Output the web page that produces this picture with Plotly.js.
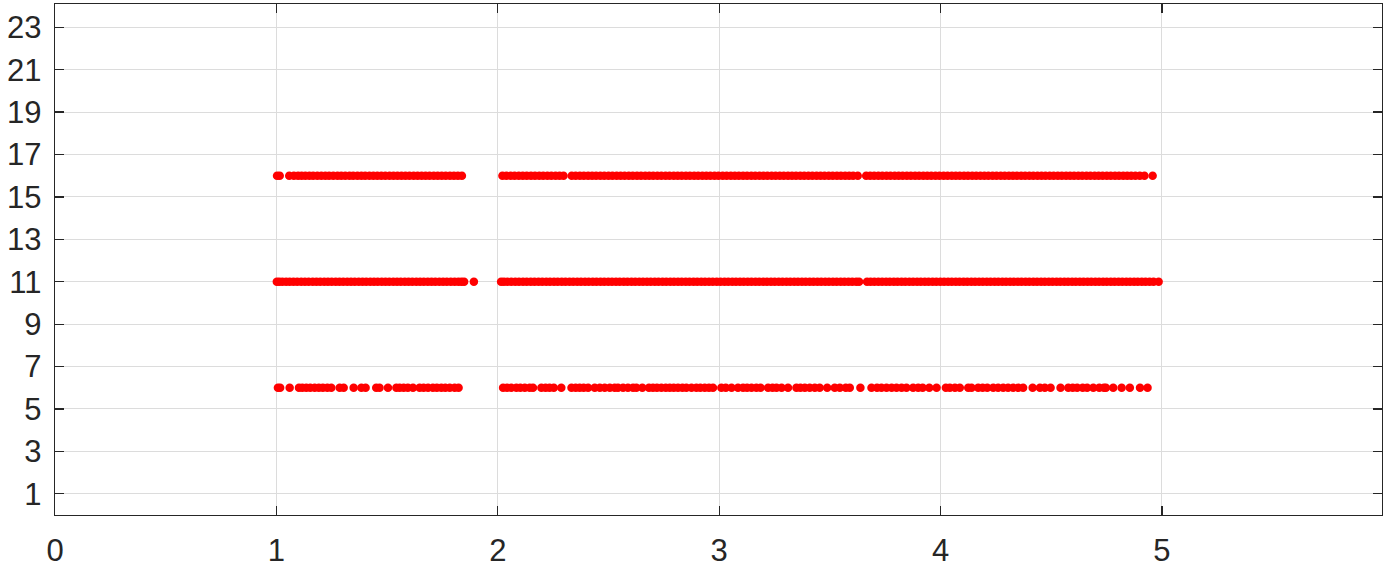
<!DOCTYPE html>
<html>
<head>
<meta charset="utf-8">
<script src="https://cdn.plot.ly/plotly-3.0.1.min.js"></script>
<style>html,body{margin:0;padding:0;background:#fff;}#chart{width:1384px;height:569px;}</style>
</head>
<body>
<div id="chart"></div>
<script>
var xTickVals = [0, 1, 2, 3, 4, 5];
var yTickVals = [1, 3, 5, 7, 9, 11, 13, 15, 17, 19, 21, 23];

var row6Level = 6;
var row6X = [1.007, 1.017, 1.060, 1.102, 1.117, 1.135, 1.153, 1.173, 1.192, 1.210, 1.230, 1.248, 1.286, 1.304, 1.349, 1.384, 1.403, 1.451, 1.466, 1.504, 1.542, 1.557, 1.575, 1.594, 1.617, 1.647, 1.665, 1.685, 1.707, 1.725, 1.745, 1.763, 1.783, 1.805, 1.823,
  2.024, 2.042, 2.061, 2.084, 2.102, 2.122, 2.144, 2.159, 2.197, 2.216, 2.234, 2.253, 2.287, 2.333, 2.352, 2.370, 2.388, 2.408, 2.438, 2.461, 2.483, 2.506, 2.528, 2.543, 2.566, 2.588, 2.611, 2.626, 2.653, 2.683, 2.701, 2.719, 2.739, 2.759, 2.777, 2.795, 2.814, 2.834, 2.852, 2.875, 2.897, 2.915, 2.935, 2.954, 2.972, 3.010, 3.030, 3.056, 3.085,
  3.108, 3.126, 3.146, 3.168, 3.187, 3.221, 3.241, 3.259, 3.282, 3.311, 3.349, 3.367, 3.387, 3.409, 3.432, 3.454, 3.488, 3.522, 3.545, 3.572, 3.590, 3.638, 3.688, 3.713, 3.733, 3.756, 3.779, 3.801, 3.824, 3.846, 3.876, 3.899, 3.919, 3.949, 3.982, 4.024, 4.042, 4.065, 4.087, 4.125, 4.140, 4.170, 4.190, 4.211,
  4.238, 4.260, 4.283, 4.305, 4.328, 4.351, 4.373, 4.416, 4.449, 4.471, 4.497, 4.542, 4.577, 4.597, 4.617, 4.642, 4.662, 4.690, 4.717, 4.738, 4.747, 4.780, 4.818, 4.855, 4.901, 4.935];

var row11Level = 11;
var row11X = [1.002, 1.013, 1.027, 1.044, 1.060, 1.077, 1.094, 1.112, 1.129, 1.146, 1.164, 1.181, 1.198, 1.216, 1.233, 1.250, 1.268, 1.285, 1.302, 1.320, 1.337, 1.354, 1.372, 1.389, 1.406, 1.424, 1.441, 1.458, 1.476, 1.493, 1.510, 1.528, 1.545, 1.562, 1.580, 1.597, 1.614, 1.632, 1.649, 1.666, 1.684, 1.701, 1.718, 1.736, 1.753, 1.770, 1.788, 1.805, 1.822, 1.836, 1.848, 1.892,
  2.015, 2.028, 2.044, 2.061, 2.079, 2.096, 2.114, 2.131, 2.149, 2.166, 2.184, 2.201, 2.219, 2.236, 2.254, 2.271, 2.289, 2.306, 2.324, 2.341, 2.359, 2.376, 2.394, 2.411, 2.429, 2.446, 2.464, 2.481, 2.499, 2.516, 2.534, 2.551, 2.569, 2.586, 2.604, 2.621, 2.639, 2.656, 2.674, 2.691, 2.709, 2.726, 2.744, 2.761, 2.779, 2.796, 2.814, 2.831, 2.849, 2.866, 2.884, 2.901, 2.919, 2.936, 2.954, 2.971, 2.989,
  3.006, 3.024, 3.041, 3.059, 3.076, 3.094, 3.111, 3.129, 3.146, 3.164, 3.181, 3.199, 3.216, 3.234, 3.251, 3.269, 3.286, 3.304, 3.321, 3.339, 3.356, 3.374, 3.391, 3.409, 3.426, 3.444, 3.461, 3.479, 3.496, 3.514, 3.531, 3.549, 3.566, 3.584, 3.601, 3.619, 3.632,
  3.668, 3.684, 3.701, 3.719, 3.736, 3.754, 3.771, 3.789, 3.806, 3.824, 3.841, 3.859, 3.876, 3.894, 3.911, 3.929, 3.946, 3.964, 3.981, 3.999, 4.016, 4.034, 4.051, 4.069, 4.086, 4.104, 4.121, 4.139, 4.156, 4.174, 4.191, 4.209, 4.226, 4.244, 4.261, 4.279, 4.296, 4.314, 4.331, 4.349, 4.366, 4.384, 4.401, 4.419, 4.436, 4.454, 4.471, 4.489, 4.506, 4.524, 4.541, 4.559, 4.576, 4.594, 4.611, 4.629, 4.646, 4.664, 4.681, 4.699, 4.716, 4.734, 4.751, 4.769, 4.786, 4.804, 4.821, 4.839, 4.856, 4.874, 4.891, 4.909, 4.926, 4.944, 4.962, 4.985];

var row16Level = 16;
var row16X = [1.003, 1.015, 1.058, 1.079, 1.098, 1.114, 1.131, 1.149, 1.166, 1.185, 1.203, 1.221, 1.238, 1.257, 1.276, 1.293, 1.311, 1.330, 1.347, 1.366, 1.384, 1.401, 1.420, 1.438, 1.456, 1.474, 1.492, 1.511, 1.529, 1.547, 1.565, 1.583, 1.601, 1.620, 1.638, 1.656, 1.674, 1.692, 1.711, 1.729, 1.747, 1.765, 1.784, 1.802, 1.820, 1.838,
  2.021, 2.039, 2.058, 2.076, 2.095, 2.113, 2.131, 2.150, 2.168, 2.187, 2.205, 2.224, 2.242, 2.261, 2.279, 2.297, 2.334, 2.352, 2.371, 2.389, 2.408, 2.426, 2.444, 2.463, 2.481, 2.500, 2.518, 2.537, 2.555, 2.573, 2.592, 2.610, 2.629, 2.647, 2.666, 2.684, 2.702, 2.721, 2.739, 2.758, 2.776, 2.795, 2.813, 2.831, 2.850, 2.868, 2.887, 2.905, 2.924, 2.942, 2.960, 2.979, 2.997,
  3.016, 3.034, 3.053, 3.071, 3.089, 3.108, 3.126, 3.145, 3.163, 3.182, 3.200, 3.218, 3.237, 3.255, 3.274, 3.292, 3.311, 3.329, 3.347, 3.366, 3.384, 3.403, 3.421, 3.440, 3.458, 3.476, 3.495, 3.513, 3.532, 3.550, 3.569, 3.587, 3.605, 3.626,
  3.664, 3.682, 3.700, 3.719, 3.737, 3.756, 3.774, 3.793, 3.811, 3.829, 3.848, 3.866, 3.885, 3.903, 3.922, 3.940, 3.958, 3.977, 3.995, 4.014, 4.032, 4.051, 4.069, 4.087, 4.106, 4.124, 4.143, 4.161, 4.180, 4.198, 4.216, 4.235, 4.253, 4.272, 4.290, 4.309, 4.327, 4.345, 4.364, 4.382, 4.401, 4.419, 4.438, 4.456, 4.474, 4.493, 4.511, 4.530, 4.548, 4.567, 4.585, 4.603, 4.622, 4.640, 4.659, 4.677, 4.696, 4.714, 4.732, 4.751, 4.769, 4.788, 4.806, 4.825, 4.843, 4.861, 4.880, 4.900, 4.921, 4.958];

function levelArray(xs, level) { return xs.map(function () { return level; }); }

var markerStyle = {color: '#ff0000', size: 8.5, line: {width: 0}};
var traces = [
  {x: row6X, y: levelArray(row6X, row6Level), type: 'scatter', mode: 'markers', marker: markerStyle, hoverinfo: 'x+y'},
  {x: row11X, y: levelArray(row11X, row11Level), type: 'scatter', mode: 'markers', marker: markerStyle, hoverinfo: 'x+y'},
  {x: row16X, y: levelArray(row16X, row16Level), type: 'scatter', mode: 'markers', marker: markerStyle, hoverinfo: 'x+y'}
];

var axisCommon = {
  showgrid: true, gridcolor: '#dcdcdc', gridwidth: 1,
  showline: true, linecolor: '#262626', linewidth: 1.3, mirror: 'ticks',
  ticks: 'inside', ticklen: 9, tickwidth: 1.3, tickcolor: '#262626',
  zeroline: false,
  tickfont: {family: 'Liberation Sans, Arial, sans-serif', size: 31, color: '#262626'}
};

var layout = {
  width: 1384, height: 569,
  margin: {l: 55, r: 2, t: 4, b: 54},
  paper_bgcolor: '#ffffff', plot_bgcolor: '#ffffff',
  showlegend: false,
  xaxis: Object.assign({}, axisCommon, {range: [0, 5.994], tickmode: 'array', tickvals: xTickVals, ticktext: xTickVals.map(String), ticklabelstandoff: 7}),
  yaxis: Object.assign({}, axisCommon, {range: [0, 24.1], tickmode: 'array', tickvals: yTickVals, ticktext: yTickVals.map(String), ticklabelstandoff: 6})
};

Plotly.newPlot('chart', traces, layout, {displayModeBar: false, staticPlot: true});
</script>
</body>
</html>
